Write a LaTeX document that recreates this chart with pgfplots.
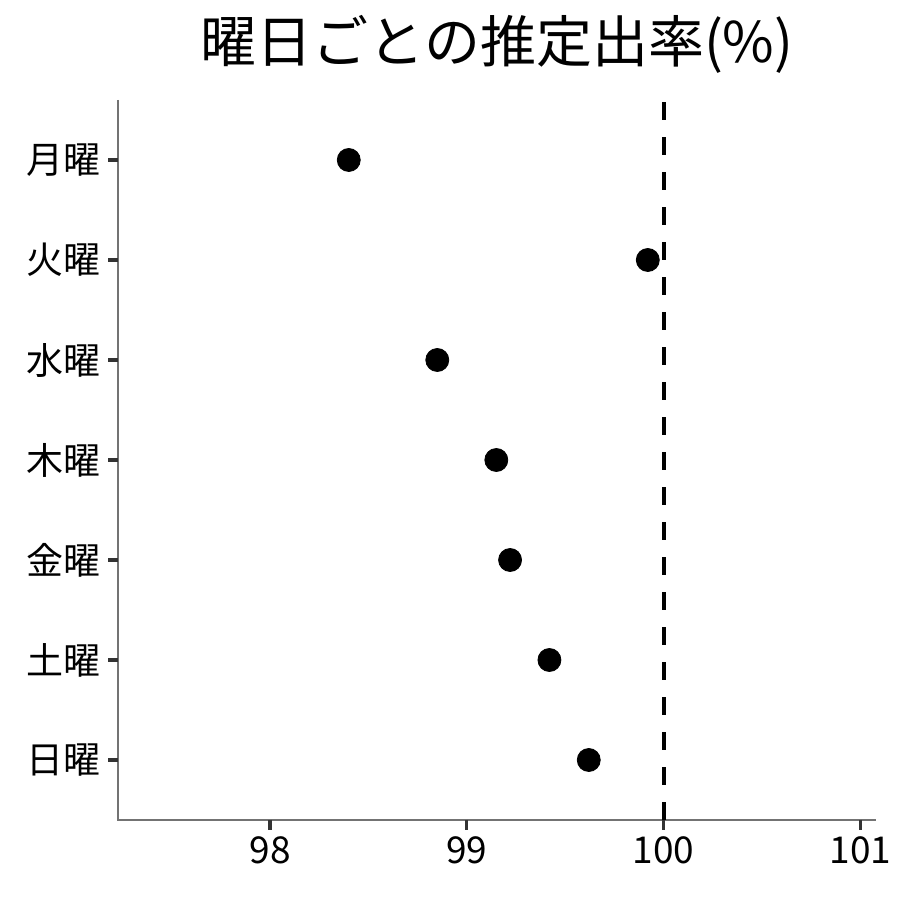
\documentclass[border=0pt]{standalone}
\usepackage{fontspec}
\setmainfont{Noto Sans CJK JP}
\usepackage{pgfplots}
\pgfplotsset{compat=1.18}

\begin{document}
\begin{tikzpicture}
  % fixed frame: 900x900 px at 0.5pt per px
  \path[use as bounding box] (-59pt,-40pt) rectangle (391pt,410pt);
  \begin{axis}[
      at={(0,0)}, anchor=origin,
      scale only axis,
      width=379pt, height=360pt,
      xmin=97.227, xmax=101.08,
      ymin=0.4, ymax=7.6,
      axis lines=left,
      axis line style={-, draw=none},
      xtick={98,99,100,101},
      ytick={1,2,3,4,5,6,7},
      yticklabels={日曜,土曜,金曜,木曜,水曜,火曜,月曜},
      tick align=outside,
      major tick length=5pt,
      tick style={draw=none},
      ticklabel style={font=\fontsize{18.5}{20}\selectfont, text=black},
      /pgf/number format/assume math mode=true,
      title={曜日ごとの推定出率(\%)},
      title style={font=\fontsize{28}{32}\selectfont, at={(0.5,1)}, anchor=south, yshift=3.5pt},
      clip=false,
    ]
    \draw[black!55, line width=0.7pt]
      (rel axis cs:0,1) -- (rel axis cs:0,0) -- (rel axis cs:1,0);
    \pgfplotsinvokeforeach{98,99,100,101}{
      \draw[black!80, line width=1.6pt]
        (axis cs:#1,0.4) -- ([yshift=-5pt]axis cs:#1,0.4);
    }
    \pgfplotsinvokeforeach{1,2,3,4,5,6,7}{
      \draw[black!80, line width=1.6pt]
        (axis cs:97.227,#1) -- ([xshift=-5pt]axis cs:97.227,#1);
    }
    \addplot[black, line width=2pt, dash pattern=on 9pt off 8.5pt]
      coordinates {(100,0.4) (100,7.6)};
    \addplot[only marks, mark=*, mark size=5.75pt, black]
      coordinates {
        (98.40,7)
        (99.92,6)
        (98.85,5)
        (99.15,4)
        (99.22,3)
        (99.42,2)
        (99.62,1)
      };
  \end{axis}
\end{tikzpicture}
\end{document}
